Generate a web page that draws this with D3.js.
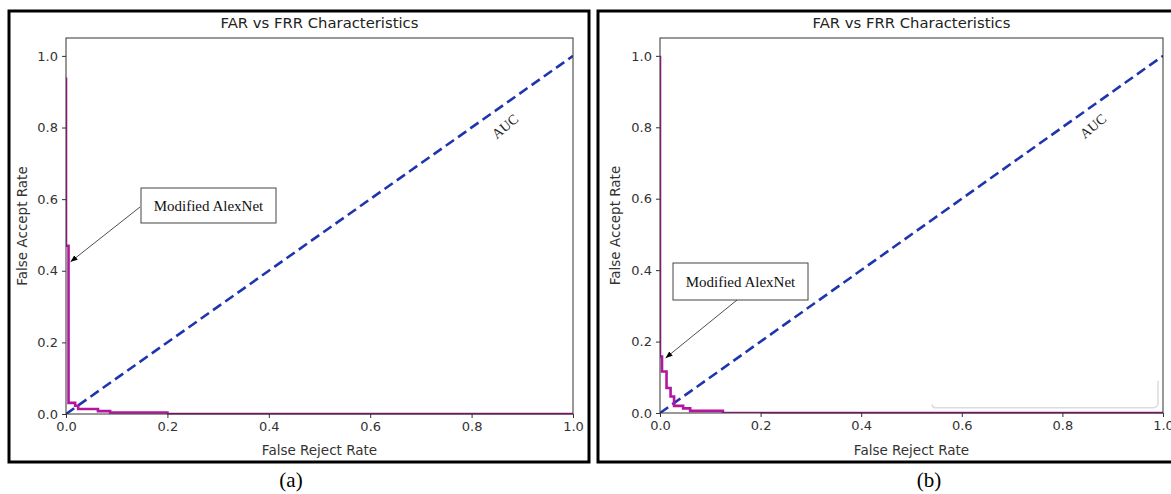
<!DOCTYPE html>
<html>
<head>
<meta charset="utf-8">
<script src="https://cdnjs.cloudflare.com/ajax/libs/d3/7.8.5/d3.min.js"></script>
<style>
  html, body { margin: 0; padding: 0; background: #fff; }
  svg { display: block; }
</style>
</head>
<body>
<svg id="chart" width="1171" height="494"></svg>
<script>
// ---- data ----
const xTicks = [0, 0.2, 0.4, 0.6, 0.8, 1.0];
const yTicks = [0, 0.2, 0.4, 0.6, 0.8, 1.0];
const tickLabels = ["0.0", "0.2", "0.4", "0.6", "0.8", "1.0"];
const titleText = "FAR vs FRR Characteristics";
const xLabelText = "False Reject Rate";
const yLabelText = "False Accept Rate";
const seriesName = "Modified AlexNet";
const diagonalX = [0, 1];
const diagonalY = [0, 1];
const curveAX = [0, 0, 0.005, 0.005, 0.018, 0.018, 0.024, 0.024, 0.063, 0.063, 0.087, 0.087, 0.2, 0.2, 1.0];
const curveAY = [0.94, 0.47, 0.47, 0.031, 0.031, 0.023, 0.023, 0.014, 0.014, 0.008, 0.008, 0.004, 0.004, 0, 0];
const curveBX = [0, 0, 0.004, 0.004, 0.013, 0.013, 0.021, 0.021, 0.028, 0.028, 0.046, 0.046, 0.06, 0.06, 0.125, 0.125, 1.0];
const curveBY = [1.0, 0.158, 0.158, 0.116, 0.116, 0.07, 0.07, 0.046, 0.046, 0.02, 0.02, 0.013, 0.013, 0.006, 0.006, 0, 0];

// ---- layout ----
const svg = d3.select("#chart");
const defs = svg.append("defs");
defs.append("marker").attr("id", "arrow")
  .attr("viewBox", "0 0 10 10").attr("refX", 10).attr("refY", 5)
  .attr("markerWidth", 7).attr("markerHeight", 7).attr("orient", "auto-start-reverse")
  .attr("markerUnits", "userSpaceOnUse")
  .append("path").attr("d", "M0,1 L10,5 L0,9 Z").attr("fill", "#000");

const panels = [
  { id: "a", frame: [9, 11, 580, 451], plot: { l: 66, r: 573, t: 38, b: 414 },
    cx: curveAX, cy: curveAY, caption: "(a)", captionX: 291,
    ann: { box: [141, 188, 135, 35], tail: [140, 207], tip: [0.009, 0.425] },
    auc: [0.868, 0.80], ylabX: 22, legend: false },
  { id: "b", frame: [598, 11, 600, 451], plot: { l: 660, r: 1163, t: 38, b: 413 },
    cx: curveBX, cy: curveBY, caption: "(b)", captionX: 929,
    ann: { box: [673, 263, 135, 37], tail: [737, 300], tip: [0.011, 0.154] },
    auc: [0.863, 0.80], ylabX: 615, legend: true }
];

const sans = "'DejaVu Sans', sans-serif";
const serif = "'Liberation Serif', 'Times New Roman', serif";

panels.forEach(p => {
  const g = svg.append("g");
  const P = p.plot;
  const x = d3.scaleLinear().domain([0, 1]).range([P.l, P.r]);
  const y = d3.scaleLinear().domain([0, 1.05]).range([P.b, P.t]);

  // frame
  g.append("rect").attr("x", p.frame[0]).attr("y", p.frame[1])
    .attr("width", p.frame[2]).attr("height", p.frame[3])
    .attr("fill", "none").attr("stroke", "#000").attr("stroke-width", 3);

  // clip
  defs.append("clipPath").attr("id", "clip-" + p.id)
    .append("rect").attr("x", P.l).attr("y", P.t).attr("width", P.r - P.l).attr("height", P.b - P.t);

  // legend remnant (faint)
  if (p.legend) {
    g.append("path")
      .attr("d", `M${x(0.99)},${y(0.09)} L${x(0.99)},${y(0.028)} Q${x(0.99)},${y(0.015)} ${x(0.98)},${y(0.015)} L${x(0.547)},${y(0.015)} Q${x(0.541)},${y(0.015)} ${x(0.541)},${y(0.024)}`)
      .attr("fill", "none").attr("stroke", "#dcdcdc").attr("stroke-width", 1.5);
  }

  const plotG = g.append("g").attr("clip-path", `url(#clip-${p.id})`);
  const line = d3.line().x(d => x(d[0])).y(d => y(d[1]));

  // diagonal
  plotG.append("path").datum(diagonalX.map((v, i) => [v, diagonalY[i]]))
    .attr("d", line).attr("fill", "none").attr("stroke", "#1f35ae")
    .attr("stroke-width", 2.6).attr("stroke-dasharray", "10,5");

  // curve
  plotG.append("path").datum(p.cx.map((v, i) => [v, p.cy[i]]))
    .attr("d", line).attr("fill", "none").attr("stroke", "#b3169e")
    .attr("stroke-width", 2.6).attr("stroke-linejoin", "miter");

  // spines
  g.append("rect").attr("x", P.l).attr("y", P.t).attr("width", P.r - P.l).attr("height", P.b - P.t)
    .attr("fill", "none").attr("stroke", "#333").attr("stroke-width", 1);
  g.append("line").attr("x1", x(0.2)).attr("x2", x(1)).attr("y1", y(0)).attr("y2", y(0))
    .attr("stroke", "#5a1050").attr("stroke-width", 1.2).attr("opacity", 0.8);

  // axes
  const xa = g.append("g").attr("transform", `translate(0,${P.b})`)
    .call(d3.axisBottom(x).tickValues(xTicks).tickFormat((d, i) => tickLabels[i]).tickSize(4).tickPadding(4));
  const ya = g.append("g").attr("transform", `translate(${P.l},0)`)
    .call(d3.axisLeft(y).tickValues(yTicks).tickFormat((d, i) => tickLabels[i]).tickSize(4).tickPadding(4));
  [xa, ya].forEach(a => {
    a.select(".domain").remove();
    a.selectAll("line").attr("stroke", "#333");
    a.selectAll("text").attr("font-family", sans).attr("font-size", 13).attr("fill", "#333");
  });

  // title
  g.append("text").attr("x", (P.l + P.r) / 2).attr("y", 28).attr("text-anchor", "middle")
    .attr("font-family", sans).attr("font-size", 14.8).attr("fill", "#222").text(titleText);
  // x label
  g.append("text").attr("x", (P.l + P.r) / 2).attr("y", 455).attr("text-anchor", "middle")
    .attr("font-family", sans).attr("font-size", 13.5).attr("fill", "#333").text(xLabelText);
  // y label
  g.append("text").attr("transform", `translate(${p.ylabX + 5},${(P.t + P.b) / 2}) rotate(-90)`)
    .attr("text-anchor", "middle")
    .attr("font-family", sans).attr("font-size", 13.5).attr("fill", "#333").text(yLabelText);

  // AUC label
  g.append("text").attr("transform", `translate(${x(p.auc[0])},${y(p.auc[1])}) rotate(-40)`)
    .attr("text-anchor", "middle").attr("dominant-baseline", "middle")
    .attr("font-family", serif).attr("font-size", 14).attr("fill", "#222").text("AUC");

  // annotation
  const b = p.ann.box;
  g.append("rect").attr("x", b[0]).attr("y", b[1]).attr("width", b[2]).attr("height", b[3])
    .attr("fill", "#fff").attr("stroke", "#444").attr("stroke-width", 1);
  g.append("text").attr("x", b[0] + b[2] / 2).attr("y", b[1] + b[3] / 2 + 5)
    .attr("text-anchor", "middle").attr("font-family", serif).attr("font-size", 15)
    .attr("fill", "#111").text(seriesName);
  g.append("line").attr("x1", p.ann.tail[0]).attr("y1", p.ann.tail[1])
    .attr("x2", x(p.ann.tip[0])).attr("y2", y(p.ann.tip[1]))
    .attr("stroke", "#222").attr("stroke-width", 0.8).attr("marker-end", "url(#arrow)");

  // caption
  svg.append("text").attr("x", p.captionX).attr("y", 487).attr("text-anchor", "middle")
    .attr("font-family", serif).attr("font-size", 21).attr("fill", "#000").text(p.caption);
});
</script>
</body>
</html>
